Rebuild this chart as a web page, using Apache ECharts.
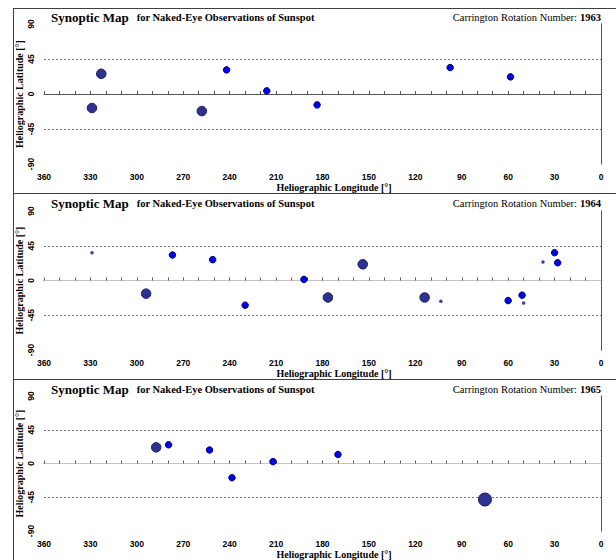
<!DOCTYPE html>
<html>
<head>
<meta charset="utf-8">
<script src="https://cdn.jsdelivr.net/npm/echarts@6/dist/echarts.min.js"></script>
</head>
<body style="margin:0">
<div id="container" style="width:616px;height:560px"></div>
<script>
// Carrington rotations shown, one panel each
var rotations = [1963, 1964, 1965];

// [longitude, latitude, spot class] ; class 1 tiny .. 4 huge
var spots1963 = [
  [329, -18, 3], [323, 26, 3], [258, -22, 3], [242, 31, 2],
  [216, 4, 2], [183.5, -14, 2], [97.5, 34, 2], [58.5, 22, 2]
];
var spots1964 = [
  [329, 36, 1], [294, -17, 3], [277, 33, 2], [251, 27, 2],
  [230, -32, 2], [192, 1.5, 2], [176.5, -22, 3], [154, 21, 3],
  [114, -22, 3], [103.5, -27, 1], [60, -26, 2], [51, -19, 2],
  [50, -29, 1], [37.5, 24, 1], [30, 36, 2], [28, 23, 2]
];
var spots1965 = [
  [287.5, 21.5, 3], [279.5, 25, 2], [253, 18, 2], [238.5, -19, 2],
  [212, 2.5, 2], [170, 12, 2], [75, -48, 4]
];
var panels = [spots1963, spots1964, spots1965];

var sizes = [0, 3.5, 6.5, 9.5, 13];
var fills = ['', '#3344aa', '#0000ee', '#2e3192', '#2e3192'];
var borders = ['', '#3344aa', '#00006a', '#1b1b5e', '#1b1b5e'];

var gridTops = [24, 211, 396];
var gridHeights = [140, 139, 139];
var frameTops = [8, 193, 379];
var titleTops = [10, 196, 382];

var serif = "'Liberation Serif', 'Times New Roman', serif";
var sans = "'Liberation Sans', Arial, sans-serif";
var axisCol = '#555';

var grids = [], xAxes = [], yAxes = [], series = [], titles = [], graphics = [];

rotations.forEach(function (rot, i) {
  grids.push({ left: 44, right: 15, top: gridTops[i], height: gridHeights[i] });

  xAxes.push({
    gridIndex: i, type: 'value', min: 0, max: 360, interval: 10, inverse: true,
    name: 'Heliographic Longitude [°]', nameLocation: 'middle', nameGap: 18, nameMoveOverlap: false,
    nameTextStyle: { fontFamily: serif, fontSize: 10, fontWeight: 'bold', color: '#000', padding: [0, 0, 0, 23] },
    axisLine: { lineStyle: { color: axisCol } },
    axisTick: { inside: true, length: 3, lineStyle: { color: axisCol } },
    axisLabel: {
      margin: 8, fontFamily: sans, fontSize: 8.5, fontWeight: 'bold', color: '#000',
      formatter: function (v) { return v % 30 === 0 ? String(v) : ''; }
    },
    splitLine: { show: false }
  });
  // top edge of the plot box
  xAxes.push({
    gridIndex: i, type: 'value', min: 0, max: 360, position: 'top', inverse: true,
    axisLine: { show: i > 0, lineStyle: { color: '#c4c4c4' } },
    axisTick: { show: false }, axisLabel: { show: false }, splitLine: { show: false }
  });

  yAxes.push({
    gridIndex: i, type: 'value', min: -90, max: 90, interval: 45,
    name: 'Heliographic Latitude [°]', nameLocation: 'middle', nameGap: 20, nameRotate: 90,
    nameMoveOverlap: false,
    nameTextStyle: { fontFamily: serif, fontSize: 10, fontWeight: 'bold', color: '#000' },
    axisLine: { show: true, lineStyle: { color: axisCol } },
    axisTick: { show: false },
    axisLabel: { rotate: 90, margin: 9, fontFamily: sans, fontSize: 8.5, fontWeight: 'bold', color: '#000' },
    splitLine: {
      show: true, showMinLine: false, showMaxLine: false,
      lineStyle: { color: '#7a7a7a', type: [2, 2], width: 1 }
    }
  });
  // right edge of the plot box
  yAxes.push({
    gridIndex: i, type: 'value', min: -90, max: 90, position: 'right',
    axisLine: { show: true, lineStyle: { color: axisCol } },
    axisTick: { show: false }, axisLabel: { show: false }, splitLine: { show: false }
  });

  series.push({
    type: 'scatter', xAxisIndex: i * 2, yAxisIndex: i * 2, symbol: 'circle',
    data: panels[i].map(function (s) {
      return {
        value: s,
        symbolSize: sizes[s[2]],
        itemStyle: {
          color: fills[s[2]], borderColor: borders[s[2]],
          borderWidth: s[2] > 1 ? 1 : 0, opacity: 1
        }
      };
    })
  });

  titles.push({
    text: '{a|Synoptic Map}{b|for Naked-Eye Observations of Sunspot}',
    left: 51, top: titleTops[i], padding: 0,
    textStyle: {
      rich: {
        a: { fontFamily: serif, fontSize: 13, fontWeight: 'bold', color: '#000', lineHeight: 14 },
        b: { fontFamily: serif, fontSize: 10.5, fontWeight: 'bold', color: '#000', lineHeight: 14, padding: [0, 0, 0, 8] }
      }
    }
  });
  titles.push({
    text: '{n|Carrington Rotation Number:}{b|' + rot + '}',
    right: 15, top: titleTops[i], padding: 0,
    textStyle: {
      rich: {
        n: { fontFamily: serif, fontSize: 10.5, fontWeight: 'normal', color: '#000', lineHeight: 14 },
        b: { fontFamily: serif, fontSize: 10.5, fontWeight: 'bold', color: '#000', lineHeight: 14, padding: [0, 0, 0, 3] }
      }
    }
  });

  graphics.push({
    type: 'line', silent: true,
    shape: { x1: 13, y1: frameTops[i] + 0.5, x2: 616, y2: frameTops[i] + 0.5 },
    style: { stroke: '#404040', lineWidth: 1 }
  });
});

graphics.push({
  type: 'line', silent: true,
  shape: { x1: 13.5, y1: 8, x2: 13.5, y2: 560 },
  style: { stroke: '#404040', lineWidth: 1 }
});

var chart = echarts.init(document.getElementById('container'), null, { renderer: 'svg' });
chart.setOption({
  animation: false,
  backgroundColor: '#fff',
  title: titles,
  grid: grids,
  xAxis: xAxes,
  yAxis: yAxes,
  series: series,
  graphic: graphics
});
</script>
</body>
</html>
